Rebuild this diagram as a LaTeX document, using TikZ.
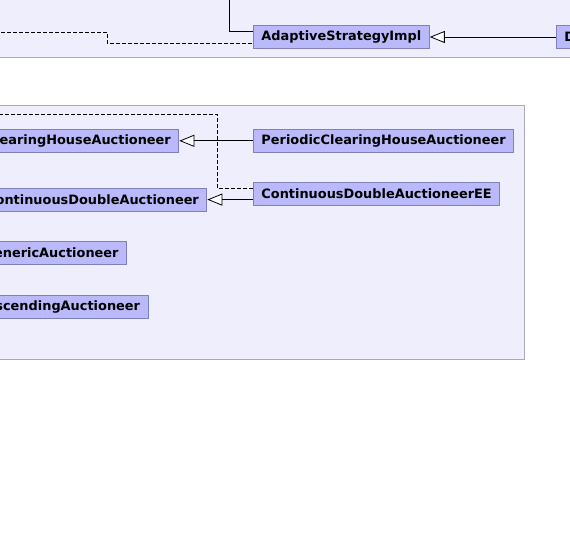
\documentclass[tikz,border=0pt]{standalone}
\usepackage{fontspec}
\setmainfont{DejaVu Sans}
\usetikzlibrary{arrows.meta}
\definecolor{pkgfill}{RGB}{238,238,252}
\definecolor{pkgline}{RGB}{168,168,184}
\definecolor{clsfill}{RGB}{186,186,250}
\definecolor{clsline}{RGB}{128,128,192}
\tikzset{
  pkgbox/.style={draw=pkgline, fill=pkgfill, line width=0.9pt},
  cls/.style={draw=clsline, fill=clsfill, line width=0.9pt,
    font=\bfseries\fontsize{12.9}{14}\selectfont,
    minimum height=23pt, inner xsep=8pt, inner ysep=0pt},
  cutleft/.style={cls, anchor=east, text width=240pt, align=right},
  cutright/.style={cls, anchor=west, text width=60pt, align=left},
  inherit/.style={-{Triangle[open, fill=white, length=15pt, width=12pt]}, line width=0.8pt},
  dep/.style={dash pattern=on 4pt off 2pt, line width=0.8pt}
}
\begin{document}
\begin{tikzpicture}[x=1pt, y=-1pt]
  \useasboundingbox (0,0) rectangle (570,549);
  \clip (0,0) rectangle (570,549);
  \fill[white] (0,0) rectangle (570,549);

  % upper package
  \draw[pkgbox] (-10,-10) rectangle (600,57);
  \node[cls, anchor=west, minimum width=174pt] (asi) at (253,37) {AdaptiveStrategyImpl};
  \node[cutright] (dsi) at (556,37) {D};
  \coordinate (upin) at (229,-5);
  \coordinate (depin) at (-5,32);
  \draw[line width=0.8pt] (upin) |- ([yshift=5.5pt]asi.west);
  \draw[dep] (depin) -- (107,32) |- ([yshift=-6.5pt]asi.west);
  \draw[inherit] (dsi.west) -- (asi.east);

  % auctioneer package
  \draw[pkgbox] (-10,105) rectangle (524,359);
  \node[cutleft] (cha) at (179.3,140.8) {earingHouseAuctioneer};
  \node[cls, anchor=west] (pcha) at (253,140.8) {PeriodicClearingHouseAuctioneer};
  \node[cutleft] (cda) at (207.3,199.6) {ontinuousDoubleAuctioneer};
  \node[cls, anchor=west] (cdaee) at (253,193.8) {ContinuousDoubleAuctioneerEE};
  \node[cutleft] (ga) at (127,252.8) {enericAuctioneer};
  \node[cutleft] (aa) at (148.5,306.5) {scendingAuctioneer};
  \coordinate (depout) at (-5,114.3);
  \draw[inherit] (pcha.west) -- (cha.east);
  \draw[inherit] (cdaee.west |- cda.east) -- (cda.east);
  \draw[dep] ([yshift=5.5pt]cdaee.west) -| (217.7,114.3) -- (depout);
\end{tikzpicture}
\end{document}
